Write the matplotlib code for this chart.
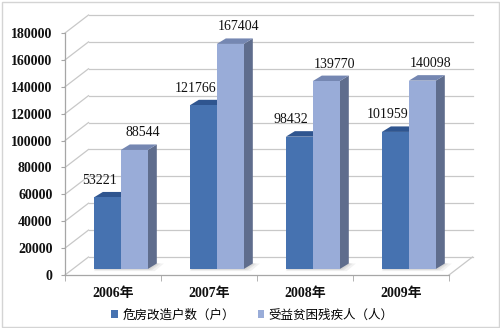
import matplotlib
matplotlib.use("Agg")
import matplotlib.pyplot as plt
from matplotlib.patches import Polygon, Rectangle
from matplotlib.transforms import ScaledTranslation

# ---- data ----
years = ["2006年", "2007年", "2008年", "2009年"]
houses = [53221, 121766, 98432, 101959]        # 危房改造户数（户）
people = [88544, 167404, 139770, 140098]       # 受益贫困残疾人（人）
series_names = ["危房改造户数（户）", "受益贫困残疾人（人）"]
y_ticks = [0, 20000, 40000, 60000, 80000, 100000, 120000, 140000, 160000, 180000]

# ---- style ----
DPI = 100
dark_front, dark_top, dark_side = "#4672B0", "#2F558F", "#34507E"
light_front, light_top, light_side = "#99ACD8", "#7587B2", "#5F6D8D"
grid_c = "#C8C8C8"
serif = ["Liberation Serif", "Noto Sans CJK SC"]

fig = plt.figure(figsize=(5.0, 3.28), dpi=DPI)
fig.patch.set_facecolor("white")
fig.add_artist(Rectangle((0.003, 0.004), 0.994, 0.991, transform=fig.transFigure,
                         fill=False, edgecolor="#D4D4D4", linewidth=1.0))

ax_l, ax_b, ax_w, ax_h = 65, 53, 384, 242      # front plane in pixels
ax = fig.add_axes([ax_l / 500, ax_b / 328, ax_w / 500, ax_h / 328])
xmin, xmax = -0.5, len(years) - 0.5
ymax = 180000
ax.set_xlim(xmin, xmax)
ax.set_ylim(0, ymax)
ax.patch.set_alpha(0)

sx = (xmax - xmin) / ax_w      # data units per pixel (x)
sy = ymax / ax_h               # data units per pixel (y)


def shifted(px, py):
    return ax.transData + ScaledTranslation(px / DPI, py / DPI, fig.dpi_scale_trans)


wall_dx, wall_dy = 23.5, 18.0   # depth of the chart box
bar_dx, bar_dy = wall_dx / 3, wall_dy / 3
top_dx, top_dy = 9.0, 5.5        # depth of each bar

back = shifted(wall_dx, wall_dy)
# back wall gridlines + left wall diagonals
for g in y_ticks:
    ax.plot([xmin, xmax], [g, g], color=grid_c, lw=0.9, transform=back,
            clip_on=False, zorder=1)
    ax.plot([xmin, xmin + wall_dx * sx], [g, g + wall_dy * sy], color=grid_c,
            lw=0.9, clip_on=False, zorder=1)
# floor right edge
ax.plot([xmax, xmax + wall_dx * sx], [0, wall_dy * sy], color=grid_c, lw=0.9,
        clip_on=False, zorder=1)

# bars with pseudo-3D faces
bw = 0.281
bar_tr = shifted(bar_dx, bar_dy)
ddx, ddy = top_dx * sx, top_dy * sy
for i in range(len(years)):
    for k, (vals, fc, tc, sc) in enumerate([(houses, dark_front, dark_top, dark_side),
                                            (people, light_front, light_top, light_side)]):
        v = vals[i]
        x0 = i - bw + k * bw
        x1 = x0 + bw
        # soft floor shadow behind the pair
        if k == 1:
            for a, grow in ((0.25, 7), (0.35, 4), (0.5, 2)):
                ax.add_patch(Polygon([(x0 - bw, -grow * 0.3 * sy), (x1 + grow * sx, -grow * 0.3 * sy),
                                      (x1 + ddx + grow * sx, ddy), (x0 - bw + ddx, ddy)],
                                     closed=True, facecolor="#C9C9C9", edgecolor="none",
                                     alpha=a, transform=bar_tr, zorder=2, clip_on=False))
        ax.add_patch(Polygon([(x1, 0), (x1 + ddx, ddy), (x1 + ddx, v + ddy), (x1, v)],
                             closed=True, facecolor=sc, edgecolor="none",
                             transform=bar_tr, zorder=3 + k, clip_on=False))
        ax.add_patch(Polygon([(x0, v), (x0 + ddx, v + ddy), (x1 + ddx, v + ddy), (x1, v)],
                             closed=True, facecolor=tc, edgecolor="none",
                             transform=bar_tr, zorder=3 + k, clip_on=False))
        ax.bar(x0, v, width=bw, align="edge", color=fc, transform=bar_tr,
               zorder=3 + k, clip_on=False, linewidth=0)
        # value label
        lab_dx = -8 if k == 0 else 8
        ax.text(x0 + bw / 2, v, f"{v}", transform=shifted(bar_dx + lab_dx, bar_dy + 17),
                ha="center", va="center", fontsize=10, family=serif, color="#111111",
                zorder=6)

# axes styling
for s in ["top", "right"]:
    ax.spines[s].set_visible(False)
for s in ["left", "bottom"]:
    ax.spines[s].set_color("#A6A6A6")
    ax.spines[s].set_linewidth(0.9)
ax.set_yticks(y_ticks)
ax.set_yticklabels([str(t) for t in y_ticks], fontsize=10, family=serif,
                   fontweight="bold", color="#111111")
ax.tick_params(axis="y", length=3, color="#A6A6A6", pad=6)
ax.set_xticks(range(len(years)))
ax.set_xticklabels(years, fontsize=10, family=serif, fontweight="bold", color="#111111")
ax.set_xticks([xmin + j for j in range(len(years) + 1)], minor=True)
ax.tick_params(axis="x", which="major", length=0, pad=9)
ax.tick_params(axis="x", which="minor", length=4, color="#A6A6A6")

# legend
handles = [Rectangle((0, 0), 1, 1, facecolor=c, edgecolor="none")
           for c in (dark_front, light_front)]
fig.legend(handles, series_names, loc="center", bbox_to_anchor=(0.505, 13 / 328),
           ncol=2, frameon=False, handlelength=0.55, handleheight=0.55,
           handletextpad=0.35, columnspacing=1.8,
           prop={"family": ["Noto Sans CJK SC"], "size": 9})

fig.savefig("out.png", dpi=DPI)
